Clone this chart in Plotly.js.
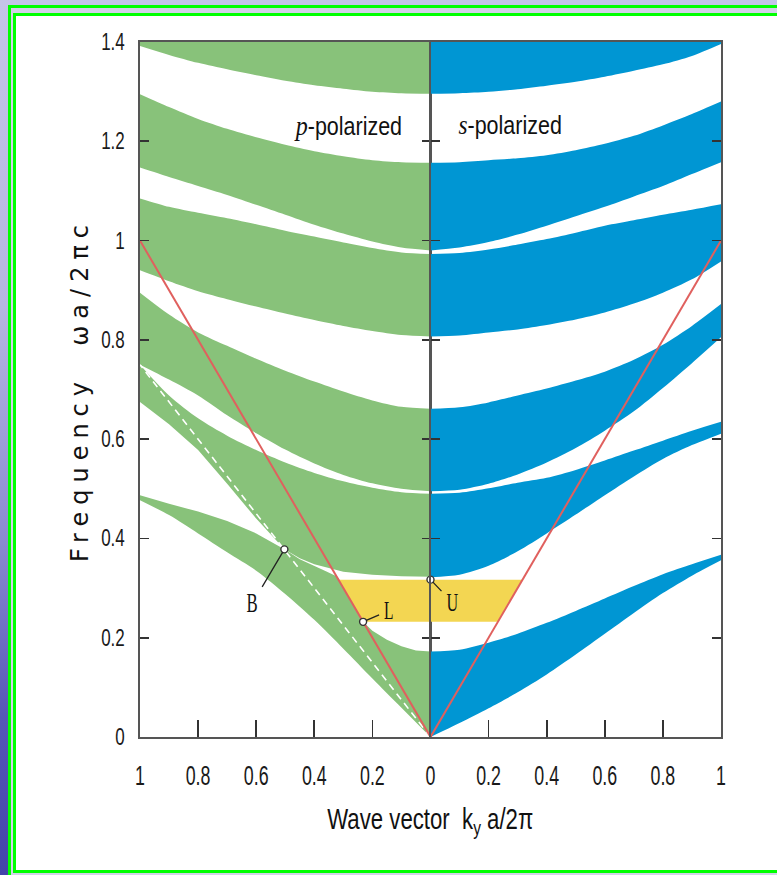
<!DOCTYPE html>
<html>
<head>
<meta charset="utf-8">
<script src="https://cdn.plot.ly/plotly-3.0.1.min.js"></script>
<style>
  html, body { margin: 0; padding: 0; width: 777px; height: 875px; overflow: hidden; }
  body {
    position: relative;
    background: linear-gradient(180deg, #c4c4e8 0%, #b6b6e0 35%, #8a8ad0 62%, #5656b8 82%, #4444aa 100%);
  }
  #frameOuter {
    position: absolute; left: 8px; top: 5px; width: 820px; height: 900px;
    border-left: 3px solid #00ff00; border-top: 3px solid #00ff00;
    background: #d2d2e8;
  }
  #frameInner {
    position: absolute; left: 13px; top: 13px; width: 820px; height: 854px;
    border-left: 3px solid #00ff00; border-top: 3px solid #00ff00; border-bottom: 3px solid #00ff00;
    background: #ffffff;
  }
  #chart { position: absolute; left: 0; top: 0; width: 777px; height: 875px; }
  g.annotation[data-index="0"] text { letter-spacing: 7px; }
</style>
</head>
<body>
<div id="frameOuter"></div>
<div id="frameInner"></div>
<div id="chart"></div>
<script>
// ---------- data: band edges, frequency (omega a / 2 pi c) vs |k_y| a / 2 pi ----------
const kGrid = [0, 0.1, 0.2, 0.3, 0.4, 0.5, 0.6, 0.7, 0.8, 0.9, 1];
const kTop = [0, 1];
const fTop = [1.4, 1.4];

// p-polarized bands (left half)
const p1Low  = [1.296, 1.297, 1.300, 1.306, 1.313, 1.322, 1.333, 1.345, 1.358, 1.374, 1.392];
const p2High = [1.157, 1.158, 1.162, 1.170, 1.180, 1.193, 1.208, 1.225, 1.245, 1.269, 1.295];
const p2Low  = [0.980, 0.986, 0.998, 1.014, 1.032, 1.052, 1.072, 1.092, 1.110, 1.128, 1.147];
const p3High = [0.973, 0.976, 0.985, 0.996, 1.008, 1.020, 1.033, 1.045, 1.056, 1.068, 1.085];
const p3Low  = [0.807, 0.810, 0.818, 0.828, 0.840, 0.853, 0.867, 0.882, 0.898, 0.918, 0.940];
const p4High = [0.661, 0.665, 0.678, 0.696, 0.716, 0.738, 0.762, 0.788, 0.815, 0.851, 0.895];
const p4Low  = [0.495, 0.500, 0.511, 0.528, 0.551, 0.579, 0.612, 0.648, 0.688, 0.720, 0.750];
const p5High = [0.490, 0.493, 0.502, 0.515, 0.532, 0.553, 0.578, 0.607, 0.642, 0.688, 0.750];
const p5LowK = [0, 0.1, 0.2, 0.3, 0.4, 0.45, 0.503, 0.55, 0.6, 0.7, 0.8, 0.9, 1];
const p5Low  = [0.323, 0.324, 0.327, 0.333, 0.348, 0.360, 0.378, 0.408, 0.440, 0.510, 0.578, 0.630, 0.675];
const p6HighK = [0, 0.05, 0.1, 0.15, 0.2, 0.232, 0.26, 0.29, 0.32, 0.36, 0.4, 0.45, 0.503, 0.6, 0.7, 0.8, 0.9, 1];
const p6High  = [0.172, 0.174, 0.183, 0.196, 0.214, 0.232, 0.262, 0.292, 0.323, 0.334, 0.344, 0.358, 0.378, 0.410, 0.435, 0.454, 0.470, 0.487];
const p6Low  = [0, 0.059, 0.118, 0.178, 0.236, 0.288, 0.335, 0.372, 0.410, 0.447, 0.477];

// s-polarized bands (right half)
const s1Low  = [1.296, 1.297, 1.300, 1.305, 1.312, 1.320, 1.330, 1.342, 1.355, 1.372, 1.396];
const s2High = [1.157, 1.158, 1.162, 1.166, 1.172, 1.182, 1.195, 1.211, 1.232, 1.255, 1.280];
const s2Low  = [0.980, 0.986, 0.997, 1.012, 1.030, 1.049, 1.068, 1.089, 1.110, 1.134, 1.158];
const s3High = [0.973, 0.975, 0.982, 0.992, 1.003, 1.016, 1.030, 1.041, 1.052, 1.062, 1.073];
const s3Low  = [0.807, 0.809, 0.815, 0.821, 0.830, 0.841, 0.855, 0.873, 0.895, 0.922, 0.958];
const s4High = [0.661, 0.664, 0.674, 0.688, 0.702, 0.718, 0.736, 0.760, 0.790, 0.828, 0.872];
const s4Low  = [0.495, 0.498, 0.510, 0.529, 0.553, 0.582, 0.617, 0.656, 0.703, 0.753, 0.805];
const s5High = [0.490, 0.492, 0.501, 0.512, 0.522, 0.538, 0.557, 0.577, 0.597, 0.617, 0.635];
const s5Low  = [0.322, 0.327, 0.345, 0.374, 0.410, 0.448, 0.487, 0.525, 0.560, 0.588, 0.611];
const s6High = [0.172, 0.176, 0.190, 0.208, 0.230, 0.254, 0.279, 0.304, 0.328, 0.348, 0.367];
const s6Low  = [0, 0.028, 0.058, 0.090, 0.126, 0.166, 0.208, 0.250, 0.290, 0.325, 0.356];

// light lines and special points
const lightK = [0, 1];
const lightF = [0, 1];
const dashK = [0, 1];          // light line of the high-index layer
const dashF = [0, 0.75];
const pointB = { k: 0.503, f: 0.378 };   // Brewster point
const pointL = { k: 0.232, f: 0.232 };   // bottom of omnidirectional gap
const pointU = { k: 0, f: 0.317 };       // top of omnidirectional gap

// tick labels
const yTicks = [0, 0.2, 0.4, 0.6, 0.8, 1, 1.2, 1.4];
const xTicksLeft = [1, 0.8, 0.6, 0.4, 0.2, 0];
const xTicksRight = [0.2, 0.4, 0.6, 0.8, 1];

// ---------- styling ----------
const GREEN = '#88c27a';
const BLUE = '#0096d3';
const YELLOW = '#f3d652';
const RED = '#e0605e';
const SANS = 'Liberation Sans, Arial, sans-serif';
const SERIF = 'Liberation Serif, Times New Roman, serif';

const traces = [];

function band(kLo, fLo, kHi, fHi, color, xa, ya, shapeLo, shapeHi) {
  traces.push({
    x: kLo, y: fLo, xaxis: xa, yaxis: ya, mode: 'lines', hoverinfo: 'skip',
    line: { width: 0, shape: shapeLo || 'spline', smoothing: 0.8, color: color }
  });
  traces.push({
    x: kHi, y: fHi, xaxis: xa, yaxis: ya, mode: 'lines', hoverinfo: 'skip',
    fill: 'tonexty', fillcolor: color,
    line: { width: 0, shape: shapeHi || 'spline', smoothing: 0.8, color: color }
  });
}

// p-polarized (left)
band(kGrid, p1Low, kTop, fTop, GREEN, 'x', 'y', 'spline', 'linear');
band(kGrid, p2Low, kGrid, p2High, GREEN, 'x', 'y');
band(kGrid, p3Low, kGrid, p3High, GREEN, 'x', 'y');
band(kGrid, p4Low, kGrid, p4High, GREEN, 'x', 'y');
band(p5LowK, p5Low, kGrid, p5High, GREEN, 'x', 'y', 'linear', 'spline');
band(kGrid, p6Low, p6HighK, p6High, GREEN, 'x', 'y', 'spline', 'linear');

// s-polarized (right)
band(kGrid, s1Low, kTop, fTop, BLUE, 'x2', 'y2', 'spline', 'linear');
band(kGrid, s2Low, kGrid, s2High, BLUE, 'x2', 'y2');
band(kGrid, s3Low, kGrid, s3High, BLUE, 'x2', 'y2');
band(kGrid, s4Low, kGrid, s4High, BLUE, 'x2', 'y2');
band(kGrid, s5Low, kGrid, s5High, BLUE, 'x2', 'y2');
band(kGrid, s6Low, kGrid, s6High, BLUE, 'x2', 'y2');

// omnidirectional gap, bounded by the light lines between L and U
const gapLo = pointL.f, gapHi = pointU.f;
['x', 'x2'].forEach(function (xa, i) {
  traces.push({
    x: [0, gapHi, gapLo, 0], y: [gapHi, gapHi, gapLo, gapLo],
    xaxis: xa, yaxis: i ? 'y2' : 'y', mode: 'lines', fill: 'toself',
    fillcolor: YELLOW, line: { width: 0 }, hoverinfo: 'skip'
  });
});

// dashed light line in the left half
traces.push({
  x: dashK, y: dashF, xaxis: 'x', yaxis: 'y', mode: 'lines', hoverinfo: 'skip',
  line: { color: '#ffffff', width: 1.6, dash: '7px,5px' }
});

// light lines
traces.push({ x: lightK, y: lightF, xaxis: 'x', yaxis: 'y', mode: 'lines', hoverinfo: 'skip',
  line: { color: RED, width: 2 } });
traces.push({ x: lightK, y: lightF, xaxis: 'x2', yaxis: 'y2', mode: 'lines', hoverinfo: 'skip',
  line: { color: RED, width: 2 } });

// marked points
const ptMarker = { size: 7, color: '#ffffff', line: { color: '#333333', width: 1.4 } };
traces.push({ x: [pointB.k, pointL.k], y: [pointB.f, pointL.f], xaxis: 'x', yaxis: 'y',
  mode: 'markers', marker: ptMarker, cliponaxis: false, hoverinfo: 'skip' });
traces.push({ x: [pointU.k], y: [pointU.f], xaxis: 'x2', yaxis: 'y2',
  mode: 'markers', marker: ptMarker, cliponaxis: false, hoverinfo: 'skip' });

// ---------- axes ----------
const yCommon = {
  range: [0, 1.4], autorange: false, domain: [0, 1],
  showgrid: false, zeroline: false,
  showline: true, linecolor: '#555555', linewidth: 1.6,
  ticks: 'inside', ticklen: 9, tickwidth: 1.8, tickcolor: '#333333',
  tickmode: 'array', tickvals: yTicks, mirror: 'ticks'
};
const xCommon = {
  autorange: false, showgrid: false, zeroline: false,
  showline: true, linecolor: '#555555', linewidth: 1.6, mirror: true,
  ticks: 'inside', ticklen: 17, tickwidth: 1.6, tickcolor: '#333333',
  tickmode: 'array', tickfont: { family: SANS, size: 27, color: '#1a1a1a' }, ticklabelstandoff: 14
};

const layout = {
  width: 777, height: 875,
  margin: { l: 140, r: 56, t: 42, b: 138, pad: 0 },
  paper_bgcolor: 'rgba(0,0,0,0)', plot_bgcolor: 'rgba(0,0,0,0)',
  showlegend: false,
  xaxis: Object.assign({}, xCommon, { domain: [0, 0.5], range: [1, 0], anchor: 'y', tickvals: xTicksLeft }),
  xaxis2: Object.assign({}, xCommon, { domain: [0.5, 1], range: [0, 1], anchor: 'y2', tickvals: xTicksRight }),
  yaxis: Object.assign({}, yCommon, { anchor: 'x', side: 'left',
    tickfont: { family: SANS, size: 23, color: '#1a1a1a' }, ticklabelstandoff: 9 }),
  yaxis2: Object.assign({}, yCommon, { anchor: 'x2', side: 'right', showticklabels: false }),
  annotations: [
    { text: 'Frequency  ωa/2πc', xref: 'paper', yref: 'paper', x: -0.1033, y: 0.5,
      xanchor: 'center', yanchor: 'middle', textangle: -90, showarrow: false,
      font: { family: 'DejaVu Sans', size: 24, color: '#111111' } },
    { text: 'Wave vector  k<sub>y</sub> a/2π', xref: 'paper', yref: 'paper', x: 0.5, y: -0.09,
      xanchor: 'center', yanchor: 'top', showarrow: false,
      font: { family: SANS, size: 30, color: '#111111' } },
    { text: '<i style="font-family:Liberation Serif;font-size:28px">p</i>-polarized',
      xref: 'x', yref: 'y', x: 0.283, y: 1.232, xanchor: 'center', yanchor: 'middle', showarrow: false,
      font: { family: SANS, size: 25, color: '#111111' } },
    { text: '<i style="font-family:Liberation Serif;font-size:27px">s</i>-polarized',
      xref: 'x2', yref: 'y2', x: 0.273, y: 1.232, xanchor: 'center', yanchor: 'middle', showarrow: false,
      font: { family: SANS, size: 25, color: '#111111' } },
    { text: 'B', xref: 'x', yref: 'y', x: pointB.k, y: pointB.f, ax: -32, ay: 54,
      showarrow: true, arrowhead: 0, arrowwidth: 1.3, arrowcolor: '#222222', standoff: 3.5,
      font: { family: SERIF, size: 27, color: '#111111' } },
    { text: 'L', xref: 'x', yref: 'y', x: pointL.k, y: pointL.f, ax: 25, ay: -11,
      showarrow: true, arrowhead: 0, arrowwidth: 1.3, arrowcolor: '#222222', standoff: 3.5,
      font: { family: SERIF, size: 25, color: '#111111' } },
    { text: 'U', xref: 'x2', yref: 'y2', x: pointU.k, y: pointU.f, ax: 22, ay: 23,
      showarrow: true, arrowhead: 0, arrowwidth: 1.3, arrowcolor: '#222222', standoff: 3.5,
      font: { family: SERIF, size: 26, color: '#111111' } }
  ]
};

// narrow the lettering horizontally about its anchor point (condensed typeface look)
function squeeze(selector, factor) {
  document.querySelectorAll('#chart ' + selector).forEach(function (t) {
    const ax = parseFloat(t.getAttribute('x')) || 0;
    const prev = t.getAttribute('transform') || '';
    t.setAttribute('transform',
      prev + ' translate(' + ax + ',0) scale(' + factor + ',1) translate(' + (-ax) + ',0)');
  });
}

Plotly.newPlot('chart', traces, layout, { staticPlot: true, displayModeBar: false }).then(function () {
  squeeze('g.xtick text, g.x2tick text', 0.66);
  squeeze('g.ytick text', 0.74);
  squeeze('g.annotation[data-index="1"] text.annotation-text', 0.74);
  squeeze('g.annotation[data-index="2"] text.annotation-text', 0.86);
  squeeze('g.annotation[data-index="3"] text.annotation-text', 0.86);
  squeeze('g.annotation[data-index="4"] text.annotation-text, g.annotation[data-index="5"] text.annotation-text, g.annotation[data-index="6"] text.annotation-text', 0.62);
});
</script>
</body>
</html>
